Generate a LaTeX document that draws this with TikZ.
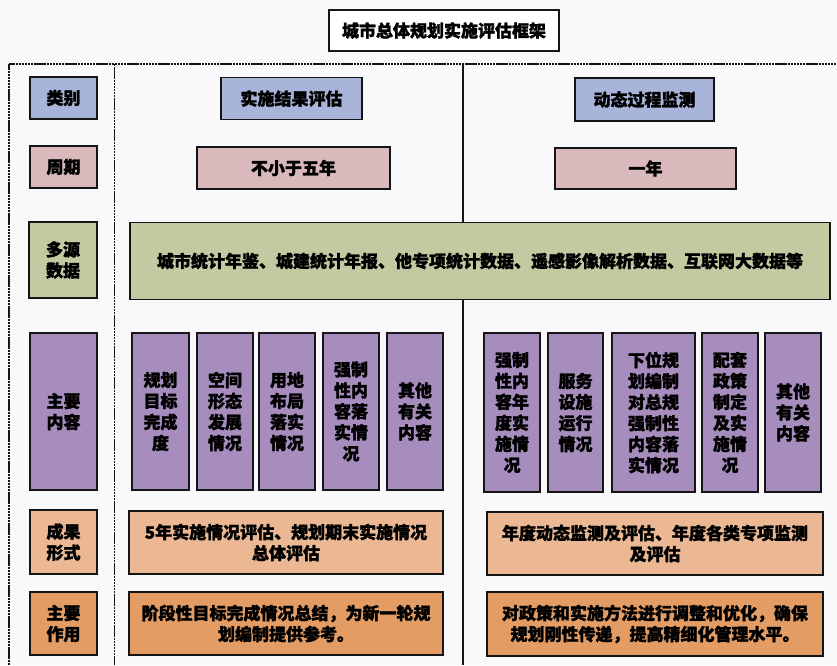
\documentclass[tikz,border=0pt]{standalone}
\usepackage{fontspec}
\setmainfont{Noto Sans CJK SC}[BoldFeatures={FakeBold=1.6}]
\definecolor{cbg}{HTML}{F9F9FB}
\definecolor{cblue}{HTML}{A9B4DA}
\definecolor{cpink}{HTML}{D9B9BB}
\definecolor{cgreen}{HTML}{C2CAA2}
\definecolor{cpurple}{HTML}{A68DBE}
\definecolor{clorange}{HTML}{EBB893}
\definecolor{corange}{HTML}{E39C63}
\definecolor{cline}{HTML}{151515}
\tikzset{
  box/.style={draw=cline, line width=1.5pt, inner sep=0pt, align=center,
    font=\bfseries\fontsize{17}{21}\selectfont},
  framedash/.style={draw=cline, line width=1.6pt, dash pattern=on 2.4pt off 0.7pt},
  sepline/.style={draw=cline, line width=1.5pt},
}
\begin{document}
\begin{tikzpicture}[x=1pt,y=-1pt]
\useasboundingbox[fill=cbg] (0,0) rectangle (837,665);
% frame
\coordinate (fbl) at (9,665);
\coordinate (ftl) at (9,64);
\coordinate (ftr) at (837,64);
\coordinate (s1t) at (114.5,64);
\coordinate (s1b) at (114.5,665);
\coordinate (s2t) at (463,64);
\coordinate (s2b) at (463,665);
\draw[framedash] (fbl) -- (ftl) -- (ftr);
\draw[framedash] (s1t) -- (s1b);
\draw[sepline] (s2t) -- (s2b);
% title
\node[box, fill=white, line width=1.6pt, minimum width=230pt, minimum height=41pt] (title) at (444,30.5) {城市总体规划实施评估框架};
% left labels
\node[box, fill=cblue, minimum width=67pt, minimum height=42pt] (lab1) at (63.5,98) {类别};
\node[box, fill=cpink, minimum width=67pt, minimum height=42pt] (lab2) at (63.5,167) {周期};
\node[box, fill=cgreen, minimum width=68pt, minimum height=76pt] (lab3) at (63,260) {多源\\数据};
\node[box, fill=cpurple, minimum width=67pt, minimum height=157pt] (lab4) at (63.5,411.5) {主要\\内容};
\node[box, fill=clorange, minimum width=67pt, minimum height=64pt] (lab5) at (63.5,542) {成果\\形式};
\node[box, fill=corange, minimum width=67pt, minimum height=63pt] (lab6) at (63.5,623.5) {主要\\作用};
% type / period
\node[box, fill=cblue, minimum width=141pt, minimum height=42pt] (a1) at (291.5,98.5) {实施结果评估};
\node[box, fill=cpink, minimum width=193pt, minimum height=42pt] (a2) at (293.5,168) {不小于五年};
\node[box, fill=cblue, minimum width=139pt, minimum height=43pt] (b1) at (644.5,99.5) {动态过程监测};
\node[box, fill=cpink, minimum width=181pt, minimum height=41pt] (b2) at (645.5,168.5) {一年};
% data
\node[box, fill=cgreen, minimum width=700pt, minimum height=77pt] (data) at (480,261) {城市统计年鉴、城建统计年报、他专项统计数据、遥感影像解析数据、互联网大数据等};
% content left
\node[box, fill=cpurple, minimum width=57pt, minimum height=157pt] (l1) at (160.5,411.5) {规划\\目标\\完成\\度};
\node[box, fill=cpurple, minimum width=56pt, minimum height=157pt] (l2) at (225,411.5) {空间\\形态\\发展\\情况};
\node[box, fill=cpurple, minimum width=56pt, minimum height=157pt] (l3) at (287,411.5) {用地\\布局\\落实\\情况};
\node[box, fill=cpurple, minimum width=56pt, minimum height=157pt] (l4) at (351,411.5) {强制\\性内\\容落\\实情\\况};
\node[box, fill=cpurple, minimum width=56pt, minimum height=157pt] (l5) at (415,411.5) {其他\\有关\\内容};
% content right
\node[box, fill=cpurple, minimum width=56pt, minimum height=159pt] (r1) at (512,412.5) {强制\\性内\\容年\\度实\\施情\\况};
\node[box, fill=cpurple, minimum width=55pt, minimum height=159pt] (r2) at (575.5,412.5) {服务\\设施\\运行\\情况};
\node[box, fill=cpurple, minimum width=83pt, minimum height=159pt] (r3) at (653.5,412.5) {下位规\\划编制\\对总规\\强制性\\内容落\\实情况};
\node[box, fill=cpurple, minimum width=56pt, minimum height=159pt] (r4) at (730,412.5) {配套\\政策\\制定\\及实\\施情\\况};
\node[box, fill=cpurple, minimum width=56pt, minimum height=159pt] (r5) at (793,412.5) {其他\\有关\\内容};
% results
\node[box, fill=clorange, minimum width=314pt, minimum height=63pt] (c1) at (286,542.5) {5年实施情况评估、规划期末实施情况\\总体评估};
\node[box, fill=corange, minimum width=314pt, minimum height=63pt] (d1) at (286,623.5) {阶段性目标完成情况总结，为新一轮规\\划编制提供参考。};
\node[box, fill=clorange, minimum width=336pt, minimum height=63pt] (c2) at (655,543.5) {年度动态监测及评估、年度各类专项监测\\及评估};
\node[box, fill=corange, minimum width=336pt, minimum height=64pt] (d2) at (655,624) {对政策和实施方法进行调整和优化，确保\\规划刚性传递，提高精细化管理水平。};
\end{tikzpicture}
\end{document}
